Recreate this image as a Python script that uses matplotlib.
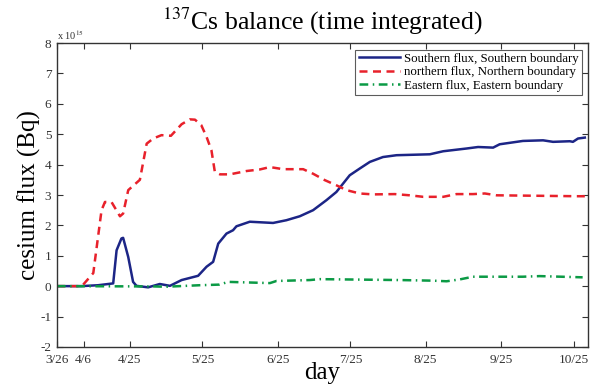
import matplotlib
matplotlib.use("Agg")
import matplotlib.pyplot as plt

plt.rcParams['font.family'] = ['Liberation Serif', 'DejaVu Serif']
plt.rcParams['mathtext.fontset'] = 'stix'
plt.rcParams['axes.unicode_minus'] = False

# days since 3/26 ; values in units of 1e15 Bq
south_day = [0, 10, 17, 23.2, 24.6, 26.6, 27.3, 29.4, 31.4, 32.8, 37.6, 42.4, 46.6, 51.4, 58.2,
             61.7, 64.4, 66.5, 69.9, 72.6, 74, 79.5, 89.1, 94.6, 100.1, 105.6, 111.1, 115.2, 118,
             120.7, 124.8, 129, 134.4, 140, 153.7, 159.2, 168.8, 173.6, 179.8, 182.5, 192.1, 200.4,
             204.5, 211.4, 212.7, 214.8, 217.6]
south_val = [0, 0, 0.03, 0.09, 1.18, 1.57, 1.59, 0.96, 0.14, 0.01, -0.04, 0.07, 0.01, 0.2, 0.34,
             0.64, 0.8, 1.4, 1.73, 1.84, 1.97, 2.12, 2.08, 2.17, 2.3, 2.5, 2.83, 3.1, 3.38,
             3.65, 3.87, 4.09, 4.25, 4.31, 4.34, 4.44, 4.53, 4.58, 4.56, 4.67, 4.78, 4.8,
             4.75, 4.77, 4.75, 4.86, 4.89]

north_day = [0, 10.3, 15, 18.4, 19.8, 22.5, 26, 27.3, 29.4, 34.2, 37, 39.7, 43.1, 47, 51.4, 54.8,
             56.9, 59.5, 61.7, 63.7, 65.1, 67.2, 71.3, 78.2, 83.6, 87.8, 93.2, 101.5, 105.6, 110.4,
             115.2, 119.4, 124.8, 130.3, 139.3, 145.4, 151, 159.2, 164.7, 171.5, 176.4, 181.2,
             192.1, 214.1, 217.6]
north_val = [0, 0, 0.43, 2.5, 2.77, 2.77, 2.3, 2.39, 3.16, 3.5, 4.69, 4.86, 4.97, 4.95, 5.33, 5.49,
             5.48, 5.3, 4.91, 4.47, 3.76, 3.68, 3.68, 3.79, 3.84, 3.92, 3.85, 3.85, 3.7, 3.49,
             3.32, 3.16, 3.05, 3.02, 3.03, 2.99, 2.94, 2.94, 3.03, 3.03, 3.05, 2.99,
             2.98, 2.96, 2.96]

east_day = [0, 40, 45, 58.9, 67, 70.6, 87.8, 90.5, 104.2, 108.4, 141.3, 155, 160.6, 166, 171.5,
            192, 199, 216.7]
east_val = [0, -0.01, -0.02, 0.03, 0.05, 0.14, 0.1, 0.17, 0.2, 0.23, 0.2, 0.18, 0.16, 0.22, 0.31,
            0.31, 0.33, 0.29]

xtick_pos = [0, 11, 30, 60, 91, 121, 152, 183, 213]
xtick_lab = ['3/26', '4/6', '4/25', '5/25', '6/25', '7/25', '8/25', '9/25', '10/25']
yticks = [-2, -1, 0, 1, 2, 3, 4, 5, 6, 7, 8]

fig = plt.figure(figsize=(5.99, 3.85), dpi=100)
ax = fig.add_axes([0.095, 0.099, 0.887, 0.789])

ax.plot(south_day, south_val, color='#1c2586', lw=1.8, label='Southern flux, Southern boundary')
ax.plot(north_day, north_val, color='#e8212b', lw=1.8, dashes=(3.2, 2.2),
        label='northern flux, Northern boundary')
ax.plot(east_day, east_val, color='#0b9a45', lw=1.8, dashes=(3.5, 1.8, 0.6, 1.8),
        label='Eastern flux, Eastern boundary')

ax.set_xlim(0, 219)
ax.set_ylim(-2, 8)
ax.set_xticks(xtick_pos)
ax.set_xticklabels(xtick_lab)
ax.set_yticks(yticks)
ax.tick_params(direction='in', top=True, right=True, labelsize=9.5, length=4, width=0.8,
               colors='#333333', labelcolor='#333333')
ax.tick_params(axis='x', pad=5)
ax.tick_params(axis='y', pad=4)
for s in ax.spines.values():
    s.set_linewidth(1.0)
    s.set_color('#333333')

ax.set_xlabel('day', fontsize=18, labelpad=-3)
ax.set_ylabel('cesium flux (Bq)', fontsize=18)
ax.yaxis.set_label_coords(-0.03, 0.5)
ax.set_title('$^{137}$Cs balance (time integrated)', fontsize=18.5, pad=10)
ax.text(0, 1.005, 'x 10$^{15}$', transform=ax.transAxes, fontsize=7.5, va='bottom', ha='left',
        color='#333333')

leg = ax.legend(loc='upper right', fontsize=9.3, frameon=True, fancybox=False,
                borderpad=0.25, labelspacing=0.1, handlelength=3.2, handletextpad=0.3,
                borderaxespad=0.5)
leg.get_frame().set_edgecolor('#333333')
leg.get_frame().set_linewidth(0.8)

fig.savefig('out.png', dpi=100)
